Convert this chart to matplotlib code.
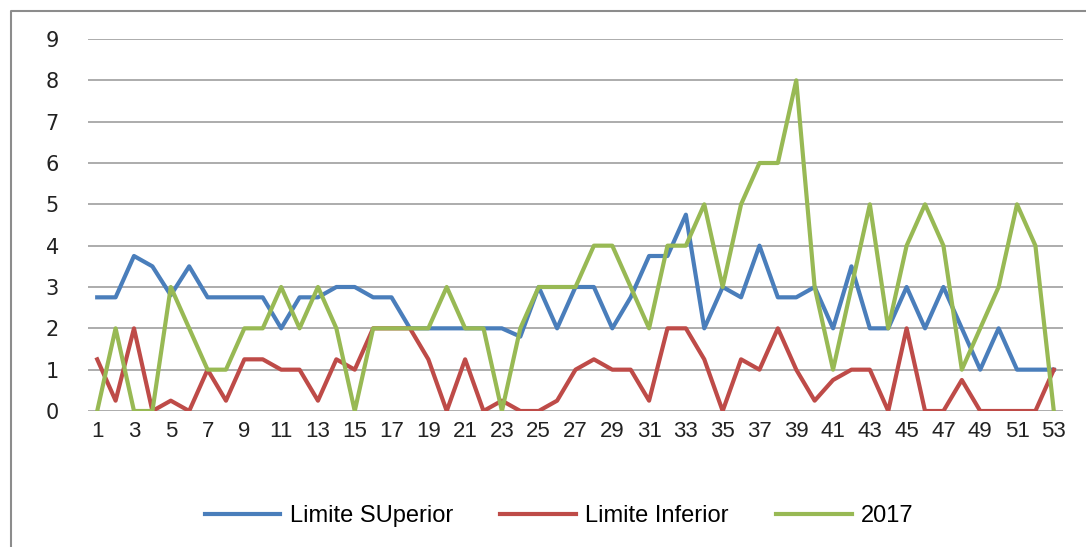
import matplotlib.pyplot as plt
from matplotlib.lines import Line2D
import numpy as np

plt.rcParams["font.family"] = ["Liberation Sans", "DejaVu Sans"]

semanas = np.arange(1, 54)

limite_superior = [
    2.75, 2.75, 3.75, 3.5, 2.8, 3.5, 2.75, 2.75, 2.75, 2.75,
    2.0, 2.75, 2.75, 3.0, 3.0, 2.75, 2.75, 2.0, 2.0, 2.0,
    2.0, 2.0, 2.0, 1.8, 3.0, 2.0, 3.0, 3.0, 2.0, 2.75,
    3.75, 3.75, 4.75, 2.0, 3.0, 2.75, 4.0, 2.75, 2.75, 3.0,
    2.0, 3.5, 2.0, 2.0, 3.0, 2.0, 3.0, 2.0, 1.0, 2.0,
    1.0, 1.0, 1.0,
]
limite_inferior = [
    1.25, 0.25, 2.0, 0.0, 0.25, 0.0, 1.0, 0.25, 1.25, 1.25,
    1.0, 1.0, 0.25, 1.25, 1.0, 2.0, 2.0, 2.0, 1.25, 0.0,
    1.25, 0.0, 0.25, 0.0, 0.0, 0.25, 1.0, 1.25, 1.0, 1.0,
    0.25, 2.0, 2.0, 1.25, 0.0, 1.25, 1.0, 2.0, 1.0, 0.25,
    0.75, 1.0, 1.0, 0.0, 2.0, 0.0, 0.0, 0.75, 0.0, 0.0,
    0.0, 0.0, 1.0,
]
casos_2017 = [
    0, 2, 0, 0, 3, 2, 1, 1, 2, 2,
    3, 2, 3, 2, 0, 2, 2, 2, 2, 3,
    2, 2, 0, 2, 3, 3, 3, 4, 4, 3,
    2, 4, 4, 5, 3, 5, 6, 6, 8, 3,
    1, 3, 5, 2, 4, 5, 4, 1, 2, 3,
    5, 4, 0,
]
y_ticks = list(range(0, 10))

fig = plt.figure(figsize=(10.86, 5.47), dpi=100)
ax = fig.add_axes([88 / 1086, 1 - 411 / 547, (1063 - 88) / 1086, (411 - 39) / 547])

ax.plot(semanas, limite_superior, color="#4A7EBB", lw=3, label="Limite SUperior")
ax.plot(semanas, limite_inferior, color="#BE4B48", lw=3, label="Limite Inferior")
ax.plot(semanas, casos_2017, color="#98B954", lw=3, label="2017")

ax.set_xlim(0.5, 53.5)
ax.set_ylim(0, 9)
ax.set_yticks(y_ticks, [str(v) for v in y_ticks], fontfamily="DejaVu Sans", fontsize=15)
ax.set_xticks(semanas[::2])
ax.grid(axis="y", color="#A6A6A6", lw=1.3)
ax.set_axisbelow(True)
for s in ax.spines.values():
    s.set_visible(False)
ax.tick_params(axis="both", length=0, colors="#222222")
ax.tick_params(axis="x", labelsize=16, pad=7)
ax.tick_params(axis="y", pad=21)

ax.legend(loc="center", bbox_to_anchor=(0.515, 1 - 516 / 547), bbox_transform=fig.transFigure,
          ncol=3, frameon=False, fontsize=17, handlelength=3.2, columnspacing=2.0,
          handletextpad=0.4)

# marco del grafico
fig.add_artist(Line2D([11 / 1086, 11 / 1086, 1], [0, 1 - 11 / 547, 1 - 11 / 547],
                      transform=fig.transFigure, color="#8C8C8C", lw=1.5))

fig.savefig("out.png", dpi=100)
